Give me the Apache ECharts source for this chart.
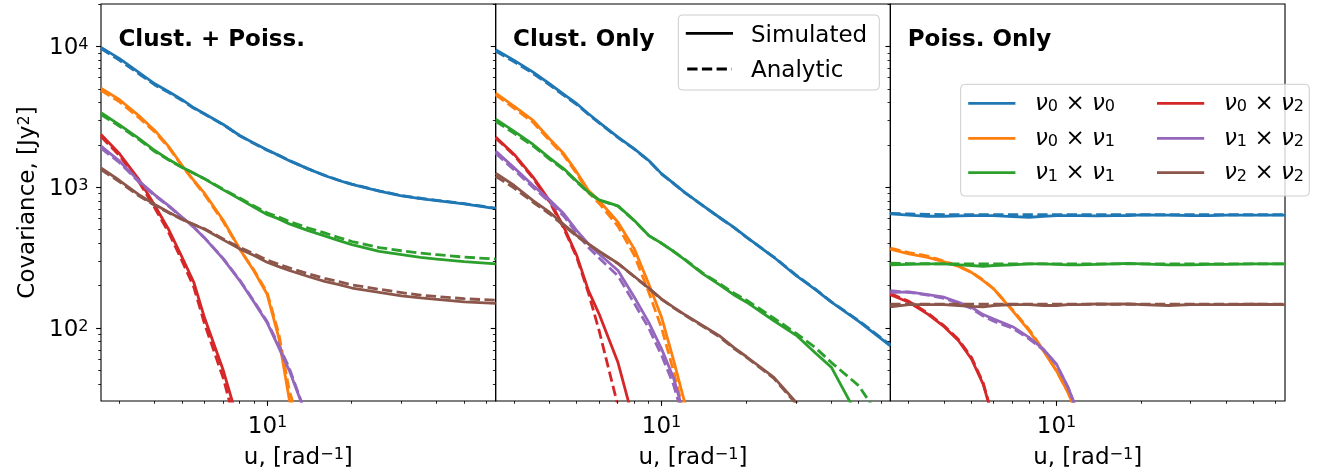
<!DOCTYPE html>
<html>
<head>
<meta charset="utf-8">
<script src="https://cdn.jsdelivr.net/npm/echarts@6/dist/echarts.min.js"></script>
<style>
  html, body { margin: 0; padding: 0; background: #fff; }
  #chart { width: 1319px; height: 476px; }
</style>
</head>
<body>
<div id="chart"></div>
<script>
// Baseline u values shared by every curve (rad^-1)
const U = [2.578, 3, 3.5, 4, 4.5, 5, 5.5, 6, 7, 8, 9, 10, 11, 12, 14, 16, 18, 20, 25, 30, 35, 40, 50, 64.7];

// ---- Clust. + Poiss. : simulated ----
const cp_sim_00 = [9890, 8220, 6600, 5450, 4760, 4200, 3680, 3340, 2800, 2340, 2060, 1850, 1690, 1550, 1355, 1215, 1120, 1050, 940, 871, 834, 807, 764, 708];
const cp_sim_01 = [5080, 4200, 3250, 2540, 1932, 1432, 1120, 910, 582, 366, 254, 175, 86, 31, 12];
const cp_sim_11 = [3393, 2786, 2240, 1830, 1571, 1393, 1262, 1151, 961, 829, 723, 642, 598, 551, 494, 453, 419, 393, 352, 333, 319, 310, 297, 286];
const cp_sim_02 = [2379, 1733, 1151, 744, 494, 319, 212, 119, 50, 20];
const cp_sim_12 = [1965, 1537, 1120, 886, 736, 614, 522, 438, 310, 218, 153, 110, 73, 50, 22];
const cp_sim_22 = [1378, 1120, 891, 756, 663, 595, 545, 505, 424, 366, 328, 294, 274, 257, 233, 215, 204, 193, 180, 170, 164, 160, 154, 150];
// ---- Clust. + Poiss. : analytic ----
const cp_ana_00 = [9700, 8000, 6450, 5350, 4700, 4150, 3650, 3320, 2790, 2330, 2050, 1840, 1690, 1550, 1355, 1220, 1125, 1055, 945, 875, 838, 810, 768, 712];
const cp_ana_01 = [4900, 4050, 3150, 2480, 1900, 1420, 1110, 890, 570, 365, 258, 180, 92, 36, 13];
const cp_ana_11 = [3300, 2720, 2200, 1800, 1560, 1385, 1262, 1155, 970, 840, 738, 660, 618, 572, 515, 475, 440, 413, 374, 355, 342, 333, 320, 310];
const cp_ana_02 = [2300, 1680, 1110, 715, 470, 300, 196, 108, 44, 16];
const cp_ana_12 = [1900, 1500, 1100, 876, 730, 612, 522, 440, 312, 220, 155, 112, 76, 52, 22];
const cp_ana_22 = [1340, 1095, 875, 745, 657, 592, 545, 508, 430, 375, 338, 305, 285, 268, 244, 226, 214, 203, 189, 179, 172, 168, 162, 158];

// ---- Clust. Only : simulated ----
const co_sim_00 = [9520, 7990, 6600, 5454, 4580, 3932, 3337, 2895, 2278, 1881, 1554, 1249, 1072, 930, 744, 614, 522, 443, 319, 236, 189, 153, 112, 75];
const co_sim_01 = [4682, 3763, 2992, 2216, 1733, 1284, 951, 807, 566, 366, 206, 119, 60, 31, 12];
const co_sim_11 = [3058, 2499, 2020, 1623, 1356, 1108, 925, 816, 740, 582, 455, 401, 352, 310, 243, 204, 173, 153, 113, 89, 67, 52.7, 23];
const co_sim_02 = [2278, 1715, 1183, 807, 522, 328, 185, 126, 57, 21];
const co_sim_12 = [1811, 1378, 1032, 816, 649, 494, 397, 337, 257, 166, 110, 71, 44.7, 24.5];
const co_sim_22 = [1263, 1032, 807, 667, 545, 455, 397, 352, 289, 233, 193, 161, 141, 126, 104, 88.5, 73, 62.7, 44.7, 29.7, 22];
// ---- Clust. Only : analytic ----
const co_ana_00 = [9300, 7800, 6450, 5350, 4500, 3880, 3300, 2870, 2260, 1870, 1545, 1245, 1070, 928, 742, 612, 521, 442, 320, 238, 190, 154, 113, 76];
const co_ana_01 = [4550, 3650, 2900, 2160, 1690, 1250, 920, 770, 530, 330, 180, 100, 50, 25];
const co_ana_11 = [2950, 2420, 1970, 1590, 1335, 1095, 918, 812, 735, 580, 455, 400, 352, 312, 246, 208, 178, 158, 118, 92, 73, 57, 39, 18];
const co_ana_02 = [2250, 1690, 1160, 790, 510, 318, 178, 96, 28];
const co_ana_12 = [1750, 1330, 1000, 790, 625, 470, 375, 315, 235, 150, 100, 64, 40, 22];
const co_ana_22 = [1200, 990, 785, 650, 535, 450, 393, 350, 288, 232, 192, 160, 140, 125, 103, 87, 72, 62, 44, 29, 21];

// ---- Poiss. Only : simulated ----
const po_sim_00 = [649, 635, 624, 624, 628, 631, 631, 631, 621, 614, 624, 631, 631, 631, 628, 631, 631, 639, 635, 631, 631, 635, 635, 635];
const po_sim_01 = [364, 337, 319, 296, 275, 249, 218, 190, 133, 96, 69, 49.9, 35, 23];
const po_sim_11 = [282, 284, 286, 286, 282, 279, 275, 279, 282, 286, 286, 284, 282, 282, 284, 286, 289, 286, 282, 282, 284, 284, 286, 286];
const po_sim_02 = [173, 153, 126, 102.5, 81.5, 60.4, 40.1, 22];
const po_sim_12 = [179, 181, 173, 166, 153, 141, 125, 116, 102.5, 86, 71, 55.7, 38, 24.5];
const po_sim_22 = [142, 147, 147, 147, 145, 143, 142, 145, 147, 147, 145, 145, 147, 147, 149, 148, 149, 147, 145, 147, 147, 147, 148, 147];
// ---- Poiss. Only : analytic ----
const po_ana_00 = [655, 648, 643, 641, 640, 640, 640, 640, 640, 640, 640, 640, 640, 640, 640, 640, 640, 640, 640, 640, 640, 640, 640, 640];
const po_ana_01 = [370, 345, 325, 300, 276, 250, 220, 190, 135, 98, 70, 50, 35, 23];
const po_ana_11 = [290, 288, 287, 286, 286, 286, 286, 286, 286, 286, 286, 286, 286, 286, 286, 286, 286, 286, 286, 286, 286, 286, 286, 286];
const po_ana_02 = [176, 155, 128, 104, 83, 62, 41, 22];
const po_ana_12 = [185, 180, 172, 163, 150, 138, 122, 112, 100, 84, 70, 55, 38, 24];
const po_ana_22 = [148, 148, 148, 148, 148, 148, 148, 148, 148, 148, 148, 148, 148, 148, 148, 148, 148, 148, 148, 148, 148, 148, 148, 148];

// Labels, colours and ticks
const PANEL_TITLES = ['Clust. + Poiss.', 'Clust. Only', 'Poiss. Only'];
const X_NAME = 'u, [rad{supn|−1}]';
const Y_NAME = 'Covariance, [Jy{supn|2}]';
const PAIR_INDICES = [['0', '0'], ['0', '1'], ['1', '1'], ['0', '2'], ['1', '2'], ['2', '2']];
const COLORS = ['#1f77b4', '#ff7f0e', '#2ca02c', '#d62728', '#9467bd', '#8c564b'];
const STYLE_LABELS = ['Simulated', 'Analytic'];
const X_MIN = 2.578, X_MAX = 64.7, Y_MIN = 30.4, Y_MAX = 20100;
const X_MAJOR = [10];
const X_MINOR = [3, 4, 5, 6, 7, 8, 9, 20, 30, 40, 50, 60];
const Y_MAJOR = [100, 1000, 10000];
const Y_MINOR = [40, 50, 60, 70, 80, 90, 200, 300, 400, 500, 600, 700, 800, 900,
                 2000, 3000, 4000, 5000, 6000, 7000, 8000, 9000, 20000];

const PANELS = [
  { sim: [cp_sim_00, cp_sim_01, cp_sim_11, cp_sim_02, cp_sim_12, cp_sim_22],
    ana: [cp_ana_00, cp_ana_01, cp_ana_11, cp_ana_02, cp_ana_12, cp_ana_22] },
  { sim: [co_sim_00, co_sim_01, co_sim_11, co_sim_02, co_sim_12, co_sim_22],
    ana: [co_ana_00, co_ana_01, co_ana_11, co_ana_02, co_ana_12, co_ana_22] },
  { sim: [po_sim_00, po_sim_01, po_sim_11, po_sim_02, po_sim_12, po_sim_22],
    ana: [po_ana_00, po_ana_01, po_ana_11, po_ana_02, po_ana_12, po_ana_22] }
];

const FONT = 'DejaVu Sans';
const FS = 23;
const SFS = 16.1;
const LH = 23;
const LW = 2.8;
const DASH = [10.3, 4.4];
const PLOT_TOP = 4, PLOT_H = 397, PLOT_W = 394.67;
const PLOT_LEFTS = [101, 101 + PLOT_W, 101 + 2 * PLOT_W];

// rich styles for the mathtext-like labels
const G_RICH = {
  sup:  { fontFamily: FONT, fontSize: SFS, lineHeight: 7, verticalAlign: 'top', fill: '#000' },
  supn: { fontFamily: FONT, fontSize: SFS, lineHeight: 12, verticalAlign: 'top', fill: '#000' },
  sub:  { fontFamily: FONT, fontSize: SFS, lineHeight: 8, verticalAlign: 'bottom', fill: '#000' },
  it:   { fontFamily: FONT, fontSize: FS, lineHeight: LH, fontStyle: 'italic', fill: '#000' }
};

function pairLabel(k) {
  const [a, b] = PAIR_INDICES[k];
  return '{it|ν}{sub|' + a + '} × {it|ν}{sub|' + b + '}';
}

function lineSeries(g, vals, color, dashed, name) {
  return {
    type: 'line', name: name, xAxisIndex: g, yAxisIndex: g,
    data: vals.map((v, i) => [U[i], v]),
    symbol: 'none', showSymbol: false, silent: true, clip: true,
    lineStyle: { color: color, width: LW, type: dashed ? DASH : 'solid',
                 join: 'round', cap: 'butt' },
    emphasis: { disabled: true }
  };
}

const series = [];
PANELS.forEach((p, g) => {
  p.sim.forEach((vals, k) => {
    series.push(lineSeries(g, vals, COLORS[k], false, 'sim-' + g + '-' + k));
    series.push(lineSeries(g, p.ana[k], COLORS[k], true, 'ana-' + g + '-' + k));
  });
});

const option = {
  animation: false,
  backgroundColor: '#fff',
  textStyle: { fontFamily: FONT },
  grid: PLOT_LEFTS.map(l => ({
    left: l, top: PLOT_TOP, width: PLOT_W, height: PLOT_H,
    show: true, borderColor: '#000', borderWidth: 1.1,
    backgroundColor: 'rgba(0,0,0,0)', containLabel: false, outerBoundsMode: 'none'
  })),
  xAxis: [0, 1, 2].map(g => ({
    type: 'log', logBase: 10, gridIndex: g, min: X_MIN, max: X_MAX,
    axisLine: { show: false }, axisTick: { show: false }, axisLabel: { show: false },
    splitLine: { show: false }
  })),
  yAxis: [0, 1, 2].map(g => ({
    type: 'log', logBase: 10, gridIndex: g, min: Y_MIN, max: Y_MAX,
    axisLine: { show: false }, axisTick: { show: false }, axisLabel: { show: false },
    splitLine: { show: false }
  })),
  series: series
};

const chart = echarts.init(document.getElementById('chart'), null, { renderer: 'canvas', width: 1319, height: 476 });
chart.setOption(option);

// ---- ticks, tick labels, axis names, panel titles and legends ----
function snap(v) { return Math.round(v - 0.5) + 0.5; }
function seg(x1, y1, x2, y2, w, color, dash, cap) {
  return { type: 'line', z: 20, silent: true,
           shape: { x1: x1, y1: y1, x2: x2, y2: y2 },
           style: { stroke: color || '#000', lineWidth: w, lineDash: dash || null, lineCap: cap || 'butt' } };
}
function txt(text, x, y, align, vAlign, extra, el) {
  return Object.assign({ type: 'text', z: 21, silent: true,
           style: Object.assign({ text: text, x: x, y: y, fill: '#000',
             fontFamily: FONT, fontSize: FS, lineHeight: LH,
             align: align, verticalAlign: vAlign, textAlign: align, textVerticalAlign: vAlign,
             rich: G_RICH }, extra || {}) }, el || {});
}

const decor = [];
for (let g = 0; g < 3; g++) {
  const yb = chart.convertToPixel({ yAxisIndex: g }, Y_MIN);
  const yt = chart.convertToPixel({ yAxisIndex: g }, Y_MAX);
  const xl = chart.convertToPixel({ xAxisIndex: g }, X_MIN);
  const xr = chart.convertToPixel({ xAxisIndex: g }, X_MAX);
  X_MAJOR.forEach(v => {
    const x = snap(chart.convertToPixel({ xAxisIndex: g }, v));
    decor.push(seg(x, yb, x, yb + 4.9, 1.1));
    decor.push(txt('10{sup|1}', x, yb + 14.2, 'center', 'top'));
  });
  X_MINOR.forEach(v => {
    const x = snap(chart.convertToPixel({ xAxisIndex: g }, v));
    decor.push(seg(x, yb, x, yb + 2.8, 0.85));
  });
  Y_MAJOR.forEach(v => {
    const y = snap(chart.convertToPixel({ yAxisIndex: g }, v));
    decor.push(seg(xl - 4.9, y, xl, y, 1.1));
    if (g === 0) {
      decor.push(txt('10{sup|' + Math.round(Math.log10(v)) + '}', xl - 12.5, y + 1.5, 'right', 'middle'));
    }
  });
  Y_MINOR.forEach(v => {
    if (v >= Y_MAX) return;
    const y = snap(chart.convertToPixel({ yAxisIndex: g }, v));
    decor.push(seg(xl - 2.8, y, xl, y, 0.85));
  });
  // x-axis name under each panel
  decor.push(txt(X_NAME, (xl + xr) / 2, yb + 57.5, 'center', 'middle'));
  // panel title
  decor.push(txt(PANEL_TITLES[g], xl + 17.4, 40.2, 'left', 'middle', { fontWeight: 'bold' }));
  if (g === 0) {
    decor.push(txt(Y_NAME, 0, 0, 'center', 'middle', null,
      { x: 28.5, y: (yb + yt) / 2, rotation: Math.PI / 2 }));
  }
}

// legend: line style
decor.push({ type: 'rect', z: 19, silent: true,
  shape: { x: 678.3, y: 15, width: 201, height: 75, r: 4 },
  style: { fill: 'rgba(255,255,255,0.8)', stroke: '#cccccc', lineWidth: 1 } });
[33.3, 69].forEach((ly, i) => {
  decor.push(seg(687.2, ly, 731.6, ly, LW, '#000', i ? DASH : null, i ? 'butt' : 'square'));
  decor.push(txt(STYLE_LABELS[i], 751, ly + 2.3, 'left', 'middle'));
});

// legend: frequency pairs
decor.push({ type: 'rect', z: 19, silent: true,
  shape: { x: 960.7, y: 84.3, width: 348.6, height: 111.7, r: 4 },
  style: { fill: 'rgba(255,255,255,0.8)', stroke: '#cccccc', lineWidth: 1 } });
const ROWS = [103.3, 138.3, 172.7];
for (let k = 0; k < 6; k++) {
  const col = Math.floor(k / 3), row = k % 3;
  const hx = col ? 1158.4 : 969.6;
  const tx = col ? 1224 : 1035;
  decor.push(seg(hx, ROWS[row], hx + 44.4, ROWS[row], LW, COLORS[k], null, 'square'));
  decor.push(txt(pairLabel(k), tx, ROWS[row] + 0.5, 'left', 'middle'));
}

chart.setOption({ graphic: { elements: decor } });
</script>
</body>
</html>
